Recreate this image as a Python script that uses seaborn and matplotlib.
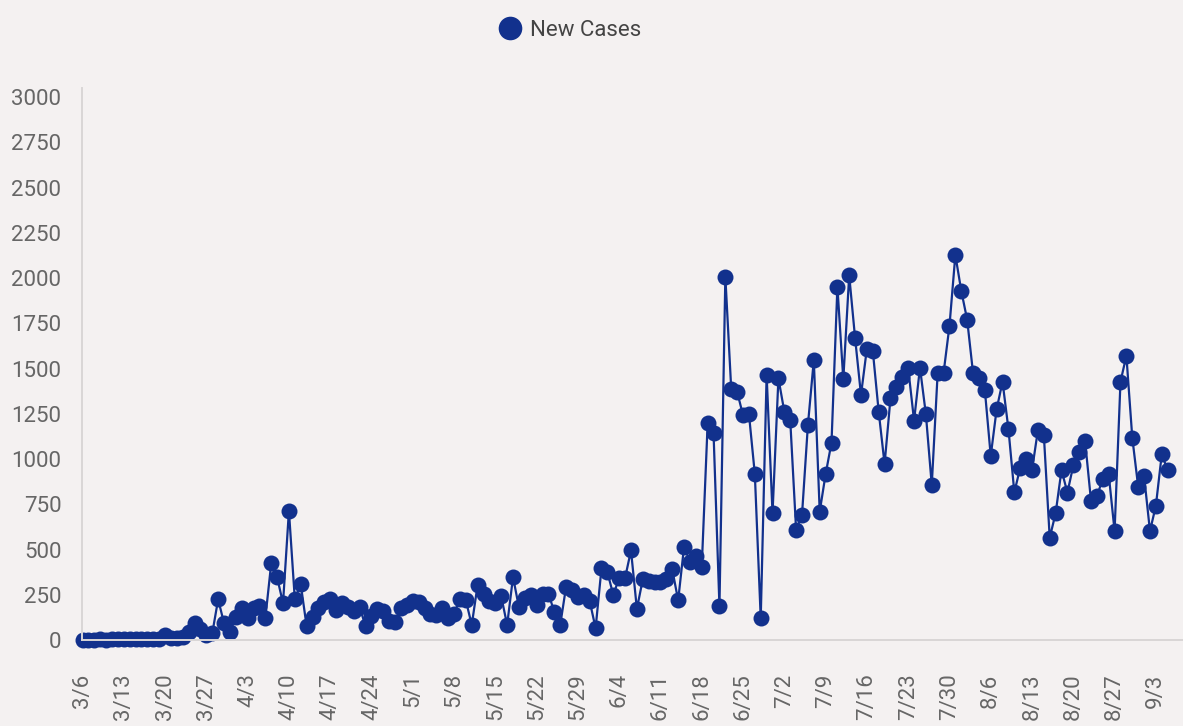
import pandas as pd
import matplotlib.pyplot as plt
import seaborn as sns
from matplotlib.lines import Line2D

# daily new cases (3/6 onwards)
new_cases = [
    1, 2, 1, 3, 2, 4, 3, 5, 4, 6, 3, 7, 5, 8,
    28, 10, 12, 14, 42, 96, 59, 28, 36, 225, 92, 42, 129, 175,
    120, 177, 190, 120, 424, 346, 203, 714, 225, 309, 76, 125, 175, 212,
    228, 166, 206, 180, 160, 180, 76, 135, 170, 158, 105, 101, 175, 195,
    215, 212, 175, 146, 138, 175, 124, 145, 228, 219, 83, 306, 252, 215,
    205, 241, 83, 348, 180, 233, 246, 196, 252, 256, 156, 83, 295, 276,
    237, 246, 215, 65, 396, 375, 249, 343, 343, 495, 172, 335, 328, 322,
    322, 335, 390, 219, 516, 433, 465, 405, 1197, 1142, 186, 2007, 1385, 1372,
    1241, 1249, 917, 120, 1464, 700, 1446, 1262, 1216, 608, 692, 1188, 1547, 709,
    916, 1090, 1952, 1440, 2015, 1668, 1354, 1610, 1599, 1262, 972, 1335, 1396, 1455,
    1503, 1212, 1505, 1248, 856, 1475, 1475, 1735, 2127, 1930, 1770, 1475, 1445, 1381,
    1017, 1275, 1427, 1166, 816, 952, 1001, 939, 1160, 1135, 565, 700, 939, 814,
    965, 1038, 1099, 770, 794, 891, 916, 602, 1427, 1571, 1118, 847, 906, 602,
    742, 1026, 939,
]

tick_labels = ['3/6', '3/13', '3/20', '3/27', '4/3', '4/10', '4/17', '4/24',
               '5/1', '5/8', '5/15', '5/22', '5/29', '6/4', '6/11', '6/18',
               '6/25', '7/2', '7/9', '7/16', '7/23', '7/30', '8/6', '8/13',
               '8/20', '8/27', '9/3']
y_ticks = [0, 250, 500, 750, 1000, 1250, 1500, 1750, 2000, 2250, 2500, 2750, 3000]

df = pd.DataFrame({'day': range(len(new_cases)), 'New Cases': new_cases})

sns.set_style('white')
plt.rcParams['font.family'] = ['Roboto', 'DejaVu Sans']

bg = '#f4f1f1'
blue = '#12318d'

fig = plt.figure(figsize=(11.83, 7.26), dpi=100, facecolor=bg)
ax = fig.add_axes([81.5 / 1183, 86 / 726, 1 - 81.5 / 1183, 552 / 726])
ax.set_facecolor(bg)

sns.lineplot(data=df, x='day', y='New Cases', ax=ax, color=blue,
             linewidth=1.6, marker='o', markersize=11.5, markeredgewidth=0,
             clip_on=False)

ax.set_xlim(-0.17, 186.6)
ax.set_ylim(0, 3050)
ax.set_xticks(range(0, len(new_cases), 7))
ax.set_xticklabels(tick_labels, rotation=90)
ax.set_xticks(range(len(new_cases)), minor=True)
ax.set_yticks(y_ticks)
ax.set_xlabel('')
ax.set_ylabel('')

for side in ['top', 'right']:
    ax.spines[side].set_visible(False)
for side in ['left', 'bottom']:
    ax.spines[side].set_color('#d9d6d6')
    ax.spines[side].set_linewidth(1.4)

ax.tick_params(axis='y', length=6.5, width=1.2, color='#d3d0d0',
               labelcolor='#666666', labelsize=16, pad=8)
ax.tick_params(axis='x', which='both', length=6, width=1.5, color='#c9c6c6',
               labelcolor='#666666', labelsize=16, pad=18)

handle = Line2D([], [], marker='o', linestyle='none', markersize=17,
                color=blue, markeredgewidth=0)
fig.legend([handle], ['New Cases'], loc='center',
           bbox_to_anchor=(570 / 1183, 1 - 30 / 726), frameon=False,
           fontsize=16, labelcolor='#444444', handlelength=1.0,
           handletextpad=0.4, borderpad=0, borderaxespad=0)

fig.savefig('out.png', dpi=100, facecolor=bg)
